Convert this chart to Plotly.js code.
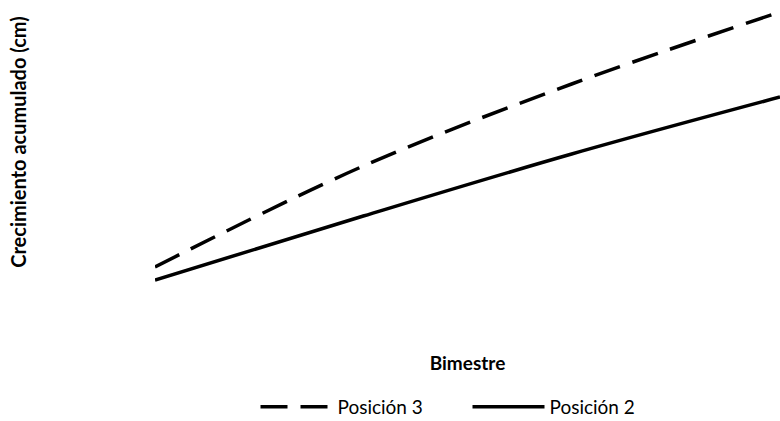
<!DOCTYPE html>
<html>
<head>
<meta charset="utf-8">
<script src="https://cdn.plot.ly/plotly-3.0.1.min.js"></script>
<style>html,body{margin:0;padding:0;background:#fff;}#chart{width:780px;height:421px;}</style>
</head>
<body>
<div id="chart"></div>
<script>
// Data (approximate, arbitrary cm scale)
const bimestres = [1, 2, 3, 4];
const posicion3 = [1.65, 6.7, 10.8, 14.4];
const posicion2 = [1.0, 4.2, 7.3, 10.15];
const seriesNames = ["Posición 3", "Posición 2"];

const traces = [
  {x: bimestres, y: posicion3, name: seriesNames[0], type: "scatter", mode: "lines",
   line: {color: "#000", width: 3.5, dash: "27px,13px", shape: "spline"}},
  {x: bimestres, y: posicion2, name: seriesNames[1], type: "scatter", mode: "lines",
   line: {color: "#000", width: 3.5, shape: "spline"}}
];

const layout = {
  width: 780, height: 421,
  margin: {l: 155, r: 0, t: 0, b: 137, autoexpand: false},
  paper_bgcolor: "#fff", plot_bgcolor: "#fff",
  showlegend: true,
  xaxis: {range: [1, 4], showgrid: false, zeroline: false, showline: false,
          showticklabels: false, ticks: "", automargin: false,
          title: {text: "Bimestre", standoff: 72, font: {family: "Lato", size: 19, color: "#000", weight: "bold"}}},
  yaxis: {range: [0.8, 15], showgrid: false, zeroline: false, showline: false,
          showticklabels: false, ticks: "", automargin: false,
          title: {text: "Crecimiento acumulado (cm)", standoff: 122, font: {family: "Lato", size: 20, color: "#000", weight: "bold"}}},
  legend: {orientation: "h", x: 0.5, xanchor: "center", y: -0.433, yanchor: "middle",
           font: {family: "Lato", size: 19, color: "#000"}, itemwidth: 72, entrywidth: 125,
           traceorder: "normal"}
};

Plotly.newPlot("chart", traces, layout, {displayModeBar: false, staticPlot: true});
</script>
</body>
</html>
